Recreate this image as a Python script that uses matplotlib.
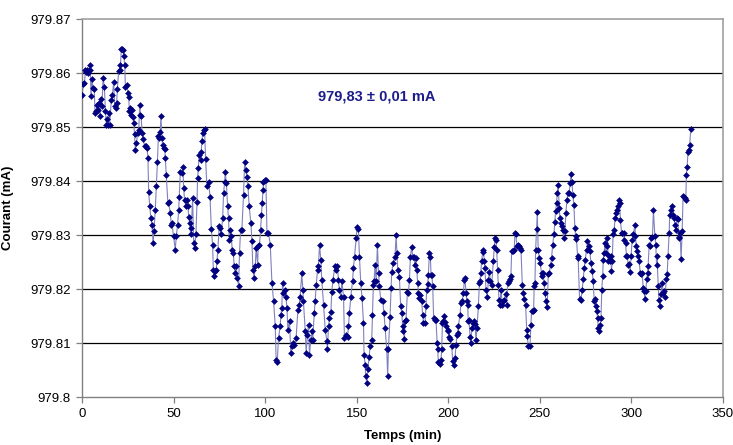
import numpy as np
import matplotlib
matplotlib.use("Agg")
import matplotlib.pyplot as plt
from matplotlib.ticker import FuncFormatter

# Beam current log: time (min) and current above the 979.800 mA baseline (µA)
BASE_MA = 979.8

minutes = [
    0.0, 0.8, 1.3, 1.9, 2.4, 2.9, 3.5, 4.2, 4.5, 4.9, 5.5, 6.0, 6.7, 7.1, 7.7, 8.2, 8.8, 9.3, 9.8, 10.3,
    10.9, 11.5, 12.2, 12.8, 13.3, 13.8, 14.2, 14.6, 15.1, 16.0, 16.6, 17.3, 17.9, 18.5, 18.9, 19.3, 20.0, 20.6, 21.0, 21.5,
    22.0, 22.4, 22.8, 23.3, 23.7, 24.4, 25.1, 25.5, 25.9, 26.3, 26.6, 27.2, 27.7, 28.2, 28.7, 29.1, 29.7, 30.4, 31.0, 31.5,
    31.9, 32.3, 32.8, 33.5, 34.2, 34.8, 35.5, 36.0, 36.4, 37.0, 37.6, 38.2, 38.8, 39.3, 40.0, 40.6, 41.2, 41.7, 42.1, 42.7,
    43.1, 43.6, 44.0, 44.6, 45.1, 45.5, 46.0, 46.9, 47.3, 48.2, 48.8, 49.1, 50.0, 50.9, 51.5, 52.2, 52.8, 53.1, 53.7, 54.6,
    55.1, 55.5, 56.0, 56.8, 57.3, 57.9, 58.2, 58.8, 59.3, 59.7, 60.4, 61.0, 61.5, 62.2, 62.8, 63.1, 63.5, 64.0, 64.8, 65.1,
    65.5, 65.9, 66.4, 66.9, 67.5, 68.2, 69.1, 69.9, 70.6, 71.3, 71.7, 72.2, 72.8, 73.3, 73.7, 74.2, 74.9, 75.5, 76.0, 76.8,
    77.3, 77.9, 78.2, 78.8, 79.5, 80.0, 80.4, 80.9, 81.5, 82.0, 82.6, 83.1, 83.7, 84.2, 84.8, 85.5, 86.0, 86.6, 87.3, 88.2,
    88.8, 89.5, 90.0, 90.6, 91.3, 92.2, 92.8, 93.3, 94.0, 94.6, 95.1, 95.9, 96.2, 96.9, 97.5, 98.0, 98.4, 98.8, 99.1, 99.7,
    100.4, 101.0, 101.8, 102.8, 103.7, 104.6, 105.5, 106.0, 106.6, 107.3, 108.2, 108.6, 109.1, 109.5, 110.0, 110.6, 111.3, 111.9, 112.4, 113.3,
    114.0, 114.6, 115.1, 116.0, 116.9, 117.9, 118.6, 119.1, 120.0, 120.6, 120.9, 121.9, 122.4, 123.1, 123.7, 124.2, 124.9, 125.5, 126.0, 126.8,
    127.3, 127.9, 128.6, 129.1, 129.7, 130.4, 130.9, 131.9, 132.8, 133.7, 134.0, 134.6, 135.1, 135.9, 136.4, 137.0, 138.2, 138.8, 139.5, 140.0,
    140.6, 141.3, 141.9, 142.8, 143.3, 144.2, 145.0, 145.5, 146.0, 146.8, 147.7, 148.2, 148.8, 149.7, 150.2, 150.9, 151.5, 152.2, 152.9, 153.7,
    154.0, 154.6, 154.9, 155.5, 156.0, 156.8, 157.3, 158.2, 158.6, 159.1, 159.5, 160.0, 160.6, 161.3, 161.9, 162.4, 163.1, 164.2, 164.9, 165.5,
    166.4, 166.9, 167.3, 168.2, 168.8, 169.1, 170.0, 170.9, 171.5, 172.0, 172.4, 173.3, 174.0, 174.6, 175.1, 175.5, 176.0, 176.4, 176.9, 177.7,
    178.2, 178.8, 179.3, 180.0, 180.6, 181.1, 181.8, 182.2, 182.8, 183.3, 183.7, 184.2, 184.8, 185.5, 186.0, 186.4, 187.3, 187.8, 188.2, 188.8,
    189.1, 189.7, 190.2, 190.6, 191.0, 191.5, 192.0, 192.8, 193.3, 193.9, 194.2, 194.6, 195.3, 196.0, 196.4, 196.8, 197.3, 197.9, 198.4, 199.0,
    199.7, 200.0, 200.6, 201.1, 201.9, 202.4, 202.9, 203.7, 204.2, 204.8, 205.1, 205.5, 206.4, 206.9, 207.7, 208.2, 208.8, 209.1, 209.7, 210.2,
    210.6, 210.9, 211.3, 211.9, 212.4, 212.8, 213.3, 213.8, 214.6, 215.1, 215.7, 216.4, 217.0, 217.3, 217.7, 218.2, 218.8, 219.1, 219.7, 220.0,
    220.6, 221.3, 221.9, 222.4, 223.0, 223.7, 224.6, 225.1, 225.5, 226.0, 226.4, 226.9, 227.3, 227.7, 228.2, 228.8, 229.5, 230.0, 230.6, 231.3,
    231.9, 232.4, 233.1, 233.7, 234.2, 234.6, 235.5, 236.0, 236.4, 236.9, 237.5, 238.2, 238.6, 239.1, 239.7, 240.4, 241.0, 241.5, 242.2, 242.8,
    243.1, 243.7, 244.6, 245.1, 245.5, 246.0, 246.6, 246.9, 247.3, 247.7, 248.2, 248.6, 249.1, 249.7, 250.2, 250.9, 251.3, 251.9, 252.2, 252.8,
    253.3, 254.0, 254.6, 255.1, 255.9, 256.4, 257.0, 257.7, 258.2, 258.6, 259.1, 259.5, 260.0, 260.6, 260.9, 261.5, 261.9, 262.4, 263.0, 263.7,
    264.2, 264.8, 265.3, 265.9, 266.6, 267.0, 267.5, 268.0, 268.6, 269.1, 269.5, 270.0, 270.6, 270.9, 271.7, 272.4, 273.1, 273.7, 274.2, 274.8,
    275.5, 276.0, 276.8, 277.3, 277.9, 278.6, 279.1, 279.7, 280.0, 280.6, 281.0, 281.5, 281.9, 282.5, 283.0, 283.4, 283.8, 284.3, 284.6, 285.1,
    285.5, 286.0, 286.4, 286.9, 287.3, 287.8, 288.2, 288.8, 289.1, 289.5, 290.0, 290.6, 291.0, 291.7, 292.0, 292.4, 293.1, 293.5, 294.0, 294.6,
    295.1, 295.7, 296.0, 296.8, 297.3, 297.8, 298.2, 298.8, 299.3, 299.8, 300.4, 301.1, 301.9, 302.2, 302.6, 303.1, 303.7, 304.2, 304.8, 305.1,
    305.9, 306.4, 306.9, 307.3, 307.8, 308.4, 308.8, 309.1, 309.7, 310.2, 310.9, 311.5, 312.0, 312.8, 313.3, 313.7, 314.0, 314.6, 315.0, 315.5,
    316.0, 316.8, 317.3, 317.9, 318.4, 319.0, 319.5, 320.0, 320.6, 320.9, 321.5, 322.2, 322.8, 323.3, 323.7, 324.2, 324.8, 325.3, 325.9, 326.2,
    326.6, 327.1, 327.7, 328.2, 328.8, 329.1, 329.7, 330.0, 330.4, 330.9, 331.3, 331.8, 332.4,
]

current_uA = [
    55.9, 58.0, 58.1, 60.5, 60.2, 60.6, 60.0, 61.4, 60.6, 55.7, 58.8, 57.2, 57.0, 52.6, 53.0, 54.0, 53.2, 54.4, 52.0, 55.2,
    53.8, 59.0, 57.5, 52.9, 50.4, 51.5, 50.4, 52.6, 50.4, 55.0, 56.0, 58.3, 53.8, 53.5, 54.5, 57.0, 60.3, 60.5, 61.5, 64.4,
    64.5, 64.3, 63.2, 61.5, 57.5, 57.8, 56.3, 55.5, 52.9, 53.5, 52.3, 53.2, 51.9, 50.7, 48.7, 45.7, 47.0, 48.9, 49.5, 54.1,
    52.3, 52.0, 48.9, 47.7, 46.4, 46.5, 46.1, 44.3, 37.9, 35.3, 33.1, 31.9, 28.5, 30.7, 34.7, 39.0, 43.6, 48.3, 48.0, 49.0,
    52.0, 48.0, 46.7, 46.1, 46.0, 44.3, 41.1, 35.9, 36.1, 34.0, 31.9, 32.2, 29.8, 27.3, 29.8, 31.9, 34.7, 37.1, 41.7, 41.4,
    42.6, 38.7, 36.5, 35.3, 36.5, 35.3, 33.4, 32.2, 30.1, 31.3, 36.8, 28.5, 27.6, 30.1, 36.2, 40.5, 42.5, 44.8, 43.9, 45.4,
    47.4, 48.8, 49.5, 49.7, 44.0, 39.0, 39.9, 37.1, 31.2, 28.2, 23.6, 22.4, 23.3, 23.6, 25.2, 27.3, 31.6, 31.3, 30.1, 33.1,
    37.7, 39.9, 41.7, 39.7, 35.3, 33.1, 29.1, 31.0, 29.8, 27.3, 26.7, 24.2, 23.0, 24.2, 22.1, 20.6, 26.7, 31.0, 31.0, 37.4,
    43.6, 42.0, 40.8, 39.0, 35.3, 32.2, 28.8, 23.6, 22.1, 24.2, 27.6, 24.5, 27.9, 28.2, 31.0, 33.7, 35.9, 38.3, 39.9, 40.2,
    40.2, 30.4, 30.4, 28.2, 21.2, 17.8, 13.2, 6.9, 6.4, 10.9, 13.1, 15.2, 16.5, 21.2, 19.2, 19.8, 18.6, 16.5, 12.5, 14.0,
    8.2, 9.4, 10.0, 9.7, 10.9, 16.2, 17.1, 18.6, 22.9, 19.8, 17.7, 12.2, 8.2, 11.5, 13.4, 7.8, 10.6, 12.2, 10.6, 15.5,
    17.7, 20.8, 23.5, 24.3, 28.2, 25.4, 21.7, 17.1, 12.5, 10.3, 8.8, 13.1, 14.6, 15.8, 19.5, 21.7, 24.3, 23.5, 24.2, 21.7,
    19.8, 18.6, 21.4, 18.6, 10.9, 11.5, 11.2, 13.1, 15.5, 18.6, 21.4, 23.8, 26.0, 29.4, 31.4, 31.2, 26.0, 21.1, 18.3, 13.7,
    7.8, 6.0, 3.8, 2.6, 5.1, 7.5, 9.4, 10.6, 15.2, 20.8, 21.4, 24.5, 21.4, 28.2, 22.9, 20.5, 18.0, 17.7, 15.5, 12.8,
    8.8, 3.8, 8.8, 14.9, 20.2, 23.2, 24.8, 26.0, 30.0, 26.6, 23.5, 22.3, 16.8, 15.5, 13.1, 12.2, 10.7, 14.0, 14.3, 19.5,
    19.3, 21.7, 25.9, 27.8, 25.9, 26.0, 24.5, 25.7, 23.5, 21.1, 19.2, 18.3, 18.9, 17.7, 15.2, 13.7, 13.7, 16.8, 19.8, 21.0,
    22.6, 26.6, 26.0, 22.6, 22.6, 20.5, 14.6, 14.3, 14.3, 10.0, 8.8, 6.4, 6.2, 6.9, 8.8, 13.7, 14.0, 15.0, 13.8, 13.1,
    12.2, 12.5, 11.2, 10.7, 9.4, 6.6, 6.0, 7.2, 9.7, 11.5, 11.8, 13.1, 15.2, 17.4, 17.7, 19.2, 21.7, 22.0, 19.2, 17.7,
    17.1, 14.0, 14.2, 11.2, 10.0, 12.8, 13.7, 14.0, 13.6, 10.6, 12.8, 16.8, 21.1, 21.4, 22.9, 25.1, 26.9, 27.2, 25.1, 23.8,
    19.8, 18.6, 21.7, 23.2, 21.4, 20.8, 25.1, 27.8, 29.4, 29.1, 27.3, 23.6, 20.8, 17.9, 17.1, 19.9, 17.1, 17.7, 18.0, 19.0,
    17.1, 21.1, 21.4, 21.8, 22.5, 27.0, 27.0, 27.3, 30.4, 30.1, 27.9, 28.2, 27.9, 27.6, 27.3, 20.8, 19.3, 18.1, 17.1, 12.5,
    11.3, 9.4, 9.4, 13.4, 15.9, 15.9, 16.2, 20.5, 21.1, 27.3, 31.1, 34.2, 27.2, 25.8, 24.8, 23.0, 22.5, 23.0, 21.1, 19.3,
    17.8, 16.7, 22.7, 22.9, 24.5, 25.8, 28.2, 30.2, 32.5, 34.4, 35.9, 37.8, 39.3, 35.0, 33.1, 32.2, 31.6, 31.0, 29.4, 30.7,
    34.1, 36.5, 37.8, 37.8, 39.6, 41.3, 39.9, 37.4, 35.6, 31.3, 29.8, 29.3, 26.1, 25.8, 18.1, 17.9, 19.9, 21.8, 23.9, 25.4,
    27.3, 28.8, 27.9, 27.0, 24.8, 23.3, 21.4, 17.8, 18.1, 16.8, 15.9, 14.7, 12.8, 12.2, 13.4, 14.7, 19.9, 22.4, 25.4, 26.7,
    28.5, 26.7, 27.9, 29.4, 25.2, 26.1, 25.2, 26.1, 23.3, 25.2, 30.1, 31.0, 33.1, 34.0, 34.7, 35.3, 36.5, 36.0, 32.8, 30.4,
    30.3, 30.3, 29.1, 28.5, 26.2, 26.1, 24.4, 24.6, 23.1, 26.1, 29.1, 30.1, 31.9, 29.8, 27.9, 27.0, 26.1, 25.2, 23.0, 22.7,
    23.0, 20.2, 19.6, 18.1, 19.6, 21.8, 23.0, 24.2, 28.2, 27.9, 29.4, 29.6, 34.7, 29.8, 28.2, 24.5, 26.1, 20.6, 18.0, 16.9,
    19.0, 21.2, 19.3, 19.6, 18.6, 21.8, 22.7, 26.1, 30.4, 33.7, 34.7, 35.3, 33.7, 33.1, 31.9, 31.0, 33.1, 33.0, 29.4, 29.7,
    30.4, 25.5, 30.7, 37.2, 37.0, 36.8, 36.5, 41.1, 42.6, 45.4, 45.7, 46.6, 49.7,
]

y_ticks = [979.80, 979.81, 979.82, 979.83, 979.84, 979.85, 979.86, 979.87]
x_ticks = [0, 50, 100, 150, 200, 250, 300, 350]
annotation = "979,83 ± 0,01 mA"

plt.rcParams["font.family"] = ["Liberation Sans", "DejaVu Sans"]

t = np.asarray(minutes)
current = BASE_MA + np.asarray(current_uA) / 1000.0

fig = plt.figure(figsize=(7.33, 4.45), dpi=100)
ax = fig.add_axes([82 / 733, 1 - 397 / 445, (723 - 82) / 733, (397 - 19) / 445])

for yv in y_ticks[1:-1]:
    ax.axhline(yv, color="black", lw=0.9, zorder=1)

ax.plot(t, current, color="#8080c0", lw=0.8, zorder=2)
ax.plot(t, current, ls="none", marker="D", ms=3.0, color="#000080",
        markeredgewidth=0.4, zorder=3)

ax.set_xlim(0, 350)
ax.set_ylim(979.80, 979.87)
ax.set_xticks(x_ticks)
ax.set_yticks(y_ticks)
ax.yaxis.set_major_formatter(FuncFormatter(lambda v, p: f"{v:.2f}".rstrip("0")))

for side in ("top", "right"):
    ax.spines[side].set_color("#a0a0a0")
    ax.spines[side].set_linewidth(1.2)
for side in ("left", "bottom"):
    ax.spines[side].set_color("#808080")
    ax.spines[side].set_linewidth(1.0)

ax.tick_params(axis="both", direction="out", length=4, width=0.9,
               color="#808080", labelsize=9.5, labelcolor="black", pad=4)

ax.set_xlabel("Temps (min)", fontsize=9.5, fontweight="bold", labelpad=7)
ax.set_ylabel("Courant (mA)", fontsize=9.5, fontweight="bold", labelpad=12)

ax.text(0.46, 0.796, annotation, transform=ax.transAxes, ha="center", va="center",
        fontsize=10.5, fontweight="bold", color="#1c1c8c")

fig.savefig("out.png", dpi=100)
